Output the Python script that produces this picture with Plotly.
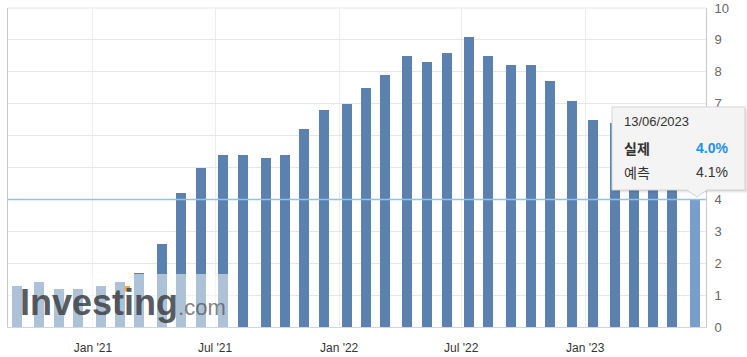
import plotly.graph_objects as go

# ---- data ----
release_dates = [
    "2020-09-11", "2020-10-13", "2020-11-12", "2020-12-10",
    "2021-01-13", "2021-02-10", "2021-03-10", "2021-04-13", "2021-05-12", "2021-06-10",
    "2021-07-13", "2021-08-11", "2021-09-14", "2021-10-13", "2021-11-10", "2021-12-10",
    "2022-01-12", "2022-02-10", "2022-03-10", "2022-04-12", "2022-05-11", "2022-06-10",
    "2022-07-13", "2022-08-10", "2022-09-13", "2022-10-13", "2022-11-10", "2022-12-13",
    "2023-01-12", "2023-02-14", "2023-03-14", "2023-04-12", "2023-05-10", "2023-06-13",
]
actual = [
    1.3, 1.4, 1.2, 1.2,
    1.3, 1.4, 1.7, 2.6, 4.2, 5.0,
    5.4, 5.4, 5.3, 5.4, 6.2, 6.8,
    7.0, 7.5, 7.9, 8.5, 8.3, 8.6,
    9.1, 8.5, 8.2, 8.2, 7.7, 7.1,
    6.5, 6.4, 6.0, 5.0, 4.9, 4.0,
]
tick_dates = ["2021-01-01", "2021-07-01", "2022-01-01", "2022-07-01", "2023-01-01"]
tick_labels = ["Jan '21", "Jul '21", "Jan '22", "Jul '22", "Jan '23"]
y_tick_vals = [0, 1, 2, 3, 4, 5, 6, 7, 8, 9, 10]
y_tick_text = ["0", "1", "2", "3", "4", "", "", "7", "8", "9", "10"]  # 5 and 6 sit under the tooltip
tooltip_date = "13/06/2023"
tooltip_actual = "4.0%"
tooltip_forecast = "4.1%"

# ---- geometry (page body margin is removed by post_script) ----
W, H = 747, 357
PL, PR, PT, PB = 8, 706, 8, 327          # plot area in screenshot pixels
ML, MT = PL, PT
PW, PH = PR - PL, PB - PT
MR = W - ML - PW
MB = H - MT - PH


def px(x):
    return (x - PL) / PW


def py(y):
    return (PB - y) / PH


bar_color = "#5b82ae"
hover_color = "#7a9ecb"
colors = [bar_color] * (len(actual) - 1) + [hover_color]
GRID = "#e6e6e6"

fig = go.Figure()
fig.add_trace(go.Bar(
    x=release_dates, y=actual,
    width=14.8 * 86400000,
    marker=dict(color=colors, line=dict(width=0)),
    hoverinfo="skip",
))

shapes = []
# top grid line (value 10 at the plot edge)
shapes.append(dict(type="line", xref="paper", yref="paper", x0=0, x1=1, y0=1, y1=1,
                   line=dict(color=GRID, width=1), layer="below"))
# crosshair at the hovered value
shapes.append(dict(type="line", xref="paper", yref="y", x0=0, x1=1,
                   y0=actual[-1], y1=actual[-1],
                   line=dict(color="#8cc2f0", width=1.5), layer="above"))
# watermark veil
shapes.append(dict(type="rect", xref="paper", yref="paper",
                   x0=0, x1=px(236), y0=0, y1=py(274),
                   fillcolor="rgba(255,255,255,0.5)", line=dict(width=0), layer="above"))
# tooltip shadow
for i, a in enumerate([0.06, 0.05, 0.04]):
    o = i + 1
    shapes.append(dict(type="rect", xref="paper", yref="paper",
                       x0=px(612 + o), x1=px(745 + o), y0=py(190 + o), y1=py(107 + o),
                       fillcolor=f"rgba(0,0,0,{a})", line=dict(width=0), layer="above"))
# tooltip box + pointer
shapes.append(dict(type="path", xref="paper", yref="paper", layer="above",
                   path=(f"M {px(612)},{py(107)} L {px(745)},{py(107)} L {px(745)},{py(190)} "
                         f"L {px(707)},{py(190)} L {px(697)},{py(197)} L {px(687)},{py(190)} "
                         f"L {px(612)},{py(190)} Z"),
                   fillcolor="rgb(244,244,244)", line=dict(color="#d4d4d4", width=1)))

FONT = "Liberation Sans, Arial"
annotations = [
    dict(text=("<b>Investing</b><span style='font-weight:normal;font-size:22px;"
               "fill:rgba(85,88,94,0.85)'>.com</span>"),
         x=px(18), y=py(302), xref="paper", yref="paper",
         xanchor="left", yanchor="middle", showarrow=False,
         font=dict(family=FONT, size=36, color="rgba(66,70,76,0.9)")),
    dict(text=tooltip_date, x=px(622), y=py(122), xref="paper", yref="paper",
         xanchor="left", yanchor="middle", showarrow=False,
         font=dict(family=FONT, size=13, color="#333333")),
    dict(text="<b>실제</b>", x=px(622), y=py(148), xref="paper", yref="paper",
         xanchor="left", yanchor="middle", showarrow=False,
         font=dict(family="Noto Sans CJK KR", size=14, color="#333333")),
    dict(text="<b>" + tooltip_actual + "</b>", x=px(730), y=py(148), xref="paper", yref="paper",
         xanchor="right", yanchor="middle", showarrow=False,
         font=dict(family=FONT, size=14, color="#1e8ef0")),
    dict(text="예측", x=px(622), y=py(172), xref="paper", yref="paper",
         xanchor="left", yanchor="middle", showarrow=False,
         font=dict(family="Noto Sans CJK KR", size=14, color="#333333")),
    dict(text=tooltip_forecast, x=px(730), y=py(172), xref="paper", yref="paper",
         xanchor="right", yanchor="middle", showarrow=False,
         font=dict(family=FONT, size=14, color="#333333")),
]
# orange dot of the logo
shapes.append(dict(type="rect", xref="paper", yref="paper",
                   x0=px(124.5), x1=px(130), y0=py(291.5), y1=py(286),
                   fillcolor="#f5a93a", line=dict(width=0), layer="above"))

fig.update_layout(
    width=W, height=H,
    margin=dict(l=ML, r=MR, t=MT, b=MB, pad=0, autoexpand=False),
    paper_bgcolor="white", plot_bgcolor="white",
    showlegend=False, bargap=0,
    font=dict(family=FONT),
    shapes=shapes, annotations=annotations,
    xaxis=dict(
        type="date", range=["2020-08-28", "2023-06-29"],
        tickvals=tick_dates, ticktext=tick_labels,
        showgrid=True, gridcolor="#ececec", gridwidth=1,
        showline=True, linecolor="#ccd6eb", linewidth=1,
        ticks="", ticklen=0, zeroline=False, automargin=False,
        tickfont=dict(size=12, color="#333333"),
        ticklabelstandoff=10,
    ),
    yaxis=dict(
        side="right", range=[0, 10], tickvals=y_tick_vals, ticktext=y_tick_text,
        showgrid=True, gridcolor=GRID, gridwidth=1,
        showline=True, mirror=True, linecolor="#c8c8c8", linewidth=1,
        ticks="", zeroline=False, automargin=False,
        tickfont=dict(size=13, color="#666666"),
        ticklabelstandoff=5,
    ),
)

fig.write_html("out.html", config={"displayModeBar": False, "staticPlot": True},
               post_script="document.body.style.margin='0px';")
